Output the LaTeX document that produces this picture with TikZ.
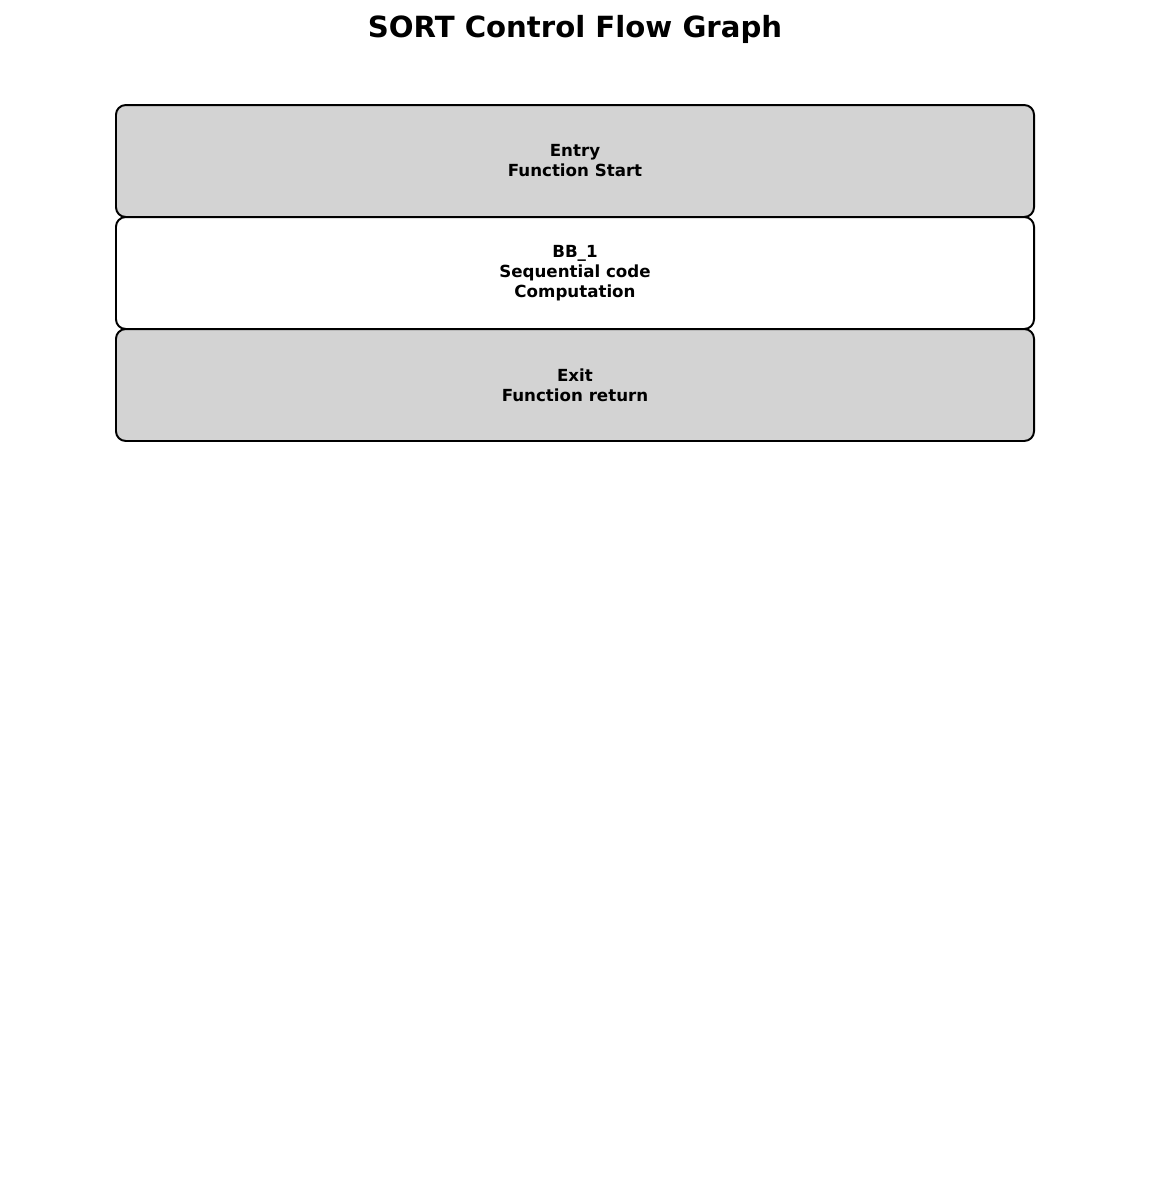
\documentclass[tikz,border=0pt]{standalone}
\usepackage{fontspec}
\setmainfont{DejaVu Sans}
\usepackage{tikz}
\usetikzlibrary{positioning}
\definecolor{blockgray}{HTML}{D3D3D3}
\tikzset{block/.style={rectangle,draw,line width=1.4pt,rounded corners=7pt,minimum width=661pt,minimum height=80.6pt,align=center,font=\fontsize{12}{14.4}\selectfont\bfseries},
         termblock/.style={block,fill=blockgray},
         bodyblock/.style={block,fill=white}}

\begin{document}
\begin{tikzpicture}[x=0.72pt,y=-0.72pt]
        \useasboundingbox (0,0) rectangle (1150,1184);
        \node[font=\fontsize{21}{25}\selectfont\bfseries] (title) at (575,29.5) {SORT Control Flow Graph};

        \node[termblock] (entry) at (575,161) {Entry\\Function Start};
        \node[bodyblock] (bb1) at (575,273) {BB\_1\\Sequential code\\Computation};
        \node[termblock] (exit) at (575,385) {Exit\\Function return};

    \end{tikzpicture}
\end{document}
